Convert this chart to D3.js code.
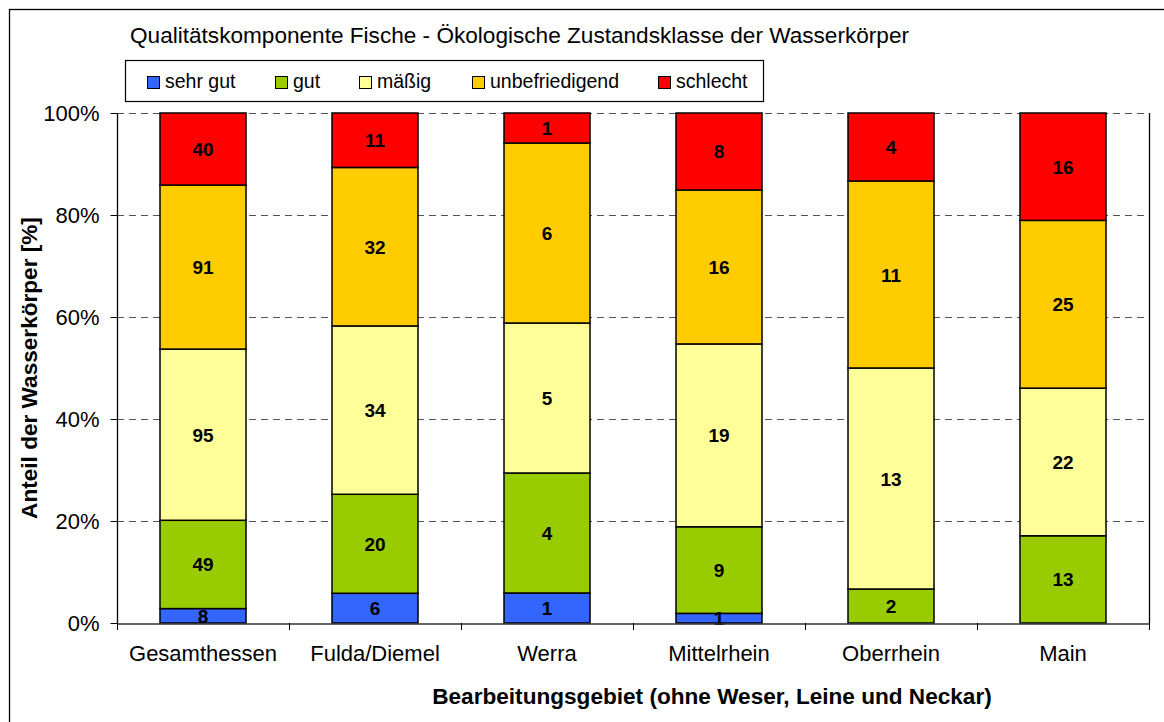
<!DOCTYPE html>
<html>
<head>
<meta charset="utf-8">
<script src="https://cdn.jsdelivr.net/npm/d3@7"></script>
<style>
  body { margin: 0; background: #fff; }
  text { font-family: Arial, "Liberation Sans", sans-serif; }
</style>
</head>
<body>
<svg id="chart" width="1164" height="722"></svg>
<script>
// Daten: Anzahl Wasserkörper je Zustandsklasse
let gebiete = ["Gesamthessen", "Fulda/Diemel", "Werra", "Mittelrhein", "Oberrhein", "Main"];
let klassen = ["sehr gut", "gut", "mäßig", "unbefriedigend", "schlecht"];
let farben = ["#3366ff", "#99cc00", "#ffff99", "#ffcc00", "#ff0000"];
let sehrGut = [8, 6, 1, 1, 0, 0];
let gut = [49, 20, 4, 9, 2, 13];
let maessig = [95, 34, 5, 19, 13, 22];
let unbefriedigend = [91, 32, 6, 16, 11, 25];
let schlecht = [40, 11, 1, 8, 4, 16];
let yTicks = [0, 0.2, 0.4, 0.6, 0.8, 1];

let reihen = [sehrGut, gut, maessig, unbefriedigend, schlecht];

let rows = gebiete.map(function(g, i) {
    let row = {gebiet: g};
    let total = 0;
    reihen.forEach(function(r) { total += r[i]; });
    klassen.forEach(function(k, j) { row[k] = reihen[j][i] / total; row[k + "_n"] = reihen[j][i]; });
    return row;
});

let svg = d3.select("#chart");

// aeusserer Rahmen
svg.append("rect")
    .attr("x", 9.5).attr("y", 9.5)
    .attr("width", 1170).attr("height", 730)
    .style("fill", "none").style("stroke", "#000").style("stroke-width", "1.3px");

let plotLeft = 117, plotRight = 1149, plotTop = 113, plotBottom = 623;

let x = d3.scaleBand().domain(gebiete).range([plotLeft, plotRight]).paddingInner(0.5).paddingOuter(0.25);
let xOuter = d3.scaleBand().domain(gebiete).range([plotLeft, plotRight]);
let y = d3.scaleLinear().domain([0, 1]).range([plotBottom, plotTop]);

// Gitterlinien
svg.append("g")
    .selectAll("line")
    .data(yTicks.filter(function(d) { return d > 0; }))
    .enter().append("line")
    .attr("x1", plotLeft).attr("x2", plotRight)
    .attr("y1", function(d) { return Math.round(y(d)) + 0.5; })
    .attr("y2", function(d) { return Math.round(y(d)) + 0.5; })
    .style("stroke", "#555")
    .style("stroke-width", "1px")
    .style("stroke-dasharray", "7,5");

// Balken
let stack = d3.stack().keys(klassen)(rows);

let layer = svg.append("g")
    .selectAll("g")
    .data(stack)
    .enter().append("g")
    .style("fill", function(d, i) { return farben[i]; });

layer.selectAll("rect")
    .data(function(d) { return d.filter(function(s) { return s[1] - s[0] > 0; }); })
    .enter().append("rect")
    .attr("x", function(d) { return x(d.data.gebiet); })
    .attr("y", function(d) { return y(d[1]); })
    .attr("width", x.bandwidth())
    .attr("height", function(d) { return y(d[0]) - y(d[1]); })
    .style("stroke", "#000")
    .style("stroke-width", "1.5px");

// Werte
stack.forEach(function(s) {
    svg.append("g")
        .selectAll("text")
        .data(s.filter(function(d) { return d[1] - d[0] > 0; }))
        .enter().append("text")
        .attr("x", function(d) { return x(d.data.gebiet) + x.bandwidth() / 2; })
        .attr("y", function(d) { return (y(d[0]) + y(d[1])) / 2 + 7; })
        .attr("text-anchor", "middle")
        .style("font-size", "19px")
        .style("font-weight", "bold")
        .text(function(d) { return d.data[s.key + "_n"]; });
});

// Achsen
svg.append("line")
    .attr("x1", plotLeft + 0.5).attr("x2", plotLeft + 0.5).attr("y1", plotTop).attr("y2", plotBottom)
    .style("stroke", "#000").style("stroke-width", "1.3px");
svg.append("line")
    .attr("x1", plotRight + 0.5).attr("x2", plotRight + 0.5).attr("y1", plotTop).attr("y2", plotBottom)
    .style("stroke", "#000").style("stroke-width", "1.3px");

let yAxis = svg.append("g")
    .attr("transform", "translate(" + (plotLeft + 0.5) + ",0)")
    .call(d3.axisLeft(y).tickValues(yTicks).tickFormat(d3.format(".0%")).tickSize(7).tickPadding(11));
yAxis.select(".domain").remove();
yAxis.selectAll("text").style("font-size", "22px").style("font-family", "Arial, 'Liberation Sans', sans-serif").style("fill", "#000");
yAxis.selectAll("line").style("stroke", "#000");

let xAxis = svg.append("g")
    .attr("transform", "translate(0," + (plotBottom + 0.5) + ")")
    .call(d3.axisBottom(xOuter).tickSize(0).tickPadding(22));
xAxis.select(".domain").style("stroke", "#333").style("stroke-width", "1.5px");
xAxis.selectAll("text").style("font-size", "22px").style("font-family", "Arial, 'Liberation Sans', sans-serif").style("fill", "#000");

// Trennstriche zwischen Kategorien
svg.append("g")
    .selectAll("line")
    .data(gebiete.concat(["end"]))
    .enter().append("line")
    .attr("x1", function(d) { return (d === "end" ? plotRight : xOuter(d)) + 0.5; })
    .attr("x2", function(d) { return (d === "end" ? plotRight : xOuter(d)) + 0.5; })
    .attr("y1", plotBottom)
    .attr("y2", plotBottom + 7)
    .style("stroke", "#000");

// Titel
svg.append("text")
    .attr("x", 130).attr("y", 43)
    .style("font-size", "22.6px")
    .text("Qualitätskomponente Fische - Ökologische Zustandsklasse der Wasserkörper");

// Achsentitel
svg.append("text")
    .attr("x", 712).attr("y", 704)
    .attr("text-anchor", "middle")
    .style("font-size", "22.6px").style("font-weight", "bold")
    .text("Bearbeitungsgebiet (ohne Weser, Leine und Neckar)");

svg.append("text")
    .attr("transform", "translate(37,368) rotate(-90)")
    .attr("text-anchor", "middle")
    .style("font-size", "22.6px").style("font-weight", "bold")
    .text("Anteil der Wasserkörper [%]");

// Legende
let legendX = [147, 275, 359, 472, 658];
let legende = svg.append("g");
legende.append("rect")
    .attr("x", 125.5).attr("y", 60.5).attr("width", 638).attr("height", 41)
    .style("fill", "#fff").style("stroke", "#000").style("stroke-width", "1.2px");

let item = legende.selectAll("g.item")
    .data(klassen)
    .enter().append("g")
    .attr("class", "item")
    .attr("transform", function(d, i) { return "translate(" + legendX[i] + ",0)"; });
item.append("rect")
    .attr("x", 0.5).attr("y", 76.5).attr("width", 12).attr("height", 12)
    .style("fill", function(d, i) { return farben[i]; })
    .style("stroke", "#000");
item.append("text")
    .attr("x", 18).attr("y", 88)
    .style("font-size", "19.5px")
    .text(function(d) { return d; });
</script>
</body>
</html>
